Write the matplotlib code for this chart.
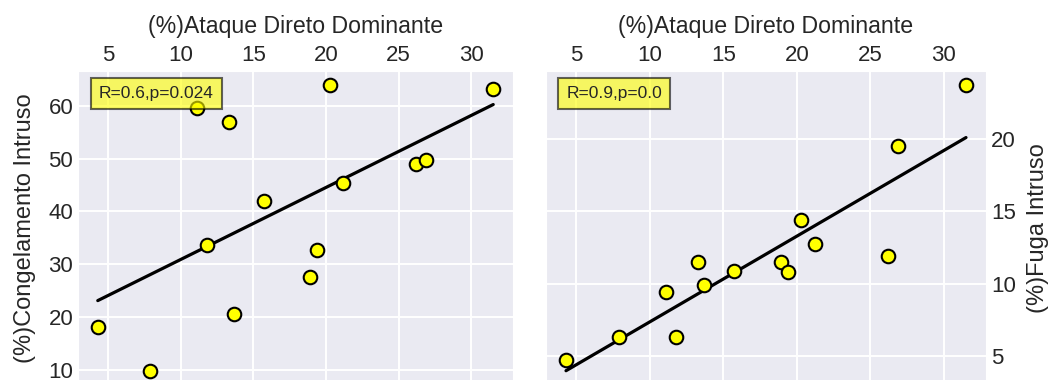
import numpy as np
import matplotlib
matplotlib.use('Agg')
import matplotlib.pyplot as plt
import seaborn as sns

# dados
ataque = [4.3, 7.9, 11.1, 11.8, 13.3, 13.7, 15.7, 18.9, 19.4, 20.3, 21.2, 26.2, 26.9, 31.5]
congelamento = [18.0, 9.8, 59.6, 33.6, 57.0, 20.6, 42.0, 27.6, 32.7, 63.9, 45.3, 49.0, 49.7, 63.1]
fuga = [4.7, 6.3, 9.4, 6.3, 11.5, 9.9, 10.9, 11.5, 10.8, 14.4, 12.7, 11.9, 19.5, 23.7]
textos = ['R=0.6,p=0.024', 'R=0.9,p=0.0']
xlabel = '(%)Ataque Direto Dominante'
ylabels = ['(%)Congelamento Intruso', '(%)Fuga Intruso']

sns.set_style('darkgrid')
plt.rcParams['font.family'] = ['Liberation Sans', 'DejaVu Sans']
plt.rcParams['text.color'] = '#262626'
plt.rcParams['axes.labelcolor'] = '#262626'
plt.rcParams['xtick.color'] = '#262626'
plt.rcParams['ytick.color'] = '#262626'
plt.rcParams['grid.linewidth'] = 1.4

fig = plt.figure(figsize=(10.51, 3.8), dpi=100)
H = 380.
W = 1051.
ax1 = fig.add_axes([78/W, -5/H, 435/W, 314/H])
ax2 = fig.add_axes([546/W, -5/H, 440/W, 314/H])

x = np.array(ataque)
for ax, y, txt, yl, tx in [(ax1, congelamento, textos[0], ylabels[0], 0.048),
                           (ax2, fuga, textos[1], ylabels[1], 0.046)]:
    y = np.array(y)
    a, b = np.polyfit(x, y, 1)
    xs = np.array([x.min(), x.max()])
    ax.plot(xs, a*xs + b, color='black', lw=2.3, zorder=2)
    ax.scatter(x, y, s=95, c='yellow', edgecolors='black', linewidths=1.5, zorder=3)
    ax.text(tx, 0.952, txt, transform=ax.transAxes, fontsize=12.5, va='top', ha='left',
            zorder=5, bbox=dict(boxstyle='square,pad=0.45', facecolor='yellow', edgecolor='black',
                                alpha=0.6, lw=1.5))
    ax.set_xlabel(xlabel, fontsize=16.7, labelpad=8.5)
    ax.xaxis.set_label_position('top')
    ax.xaxis.tick_top()
    ax.set_ylabel(yl, fontsize=17, labelpad=9)
    ax.tick_params(labelsize=16, length=0)

ax2.yaxis.set_label_position('right')
ax2.yaxis.tick_right()
ax2.set_ylabel(ylabels[1], fontsize=17, labelpad=8)

plt.savefig('out.png', dpi=100)
